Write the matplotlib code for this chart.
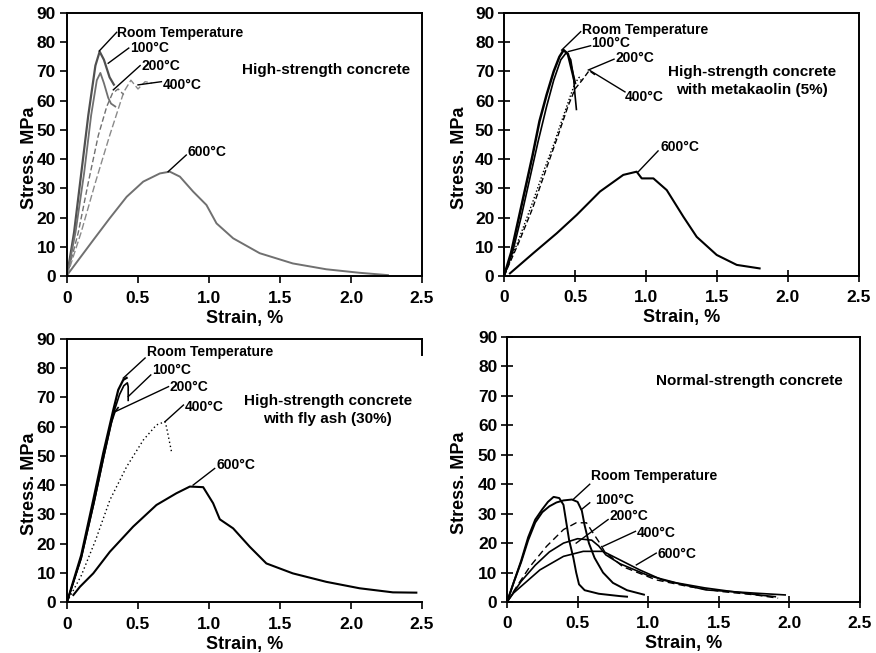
import matplotlib
matplotlib.use("Agg")
import matplotlib.pyplot as plt

# ---------------- data (strain %, stress MPa) ----------------
# Panel 1: High-strength concrete
tl_rt_strain = [0, 0.05, 0.10, 0.15, 0.20, 0.23, 0.26, 0.30, 0.33]
tl_rt_stress = [0, 15, 35, 55, 72, 76.8, 74, 68, 65.5]
tl_100_strain = [0, 0.06, 0.12, 0.17, 0.21, 0.235, 0.26, 0.29, 0.31, 0.34]
tl_100_stress = [0, 15, 35, 55, 67, 69.5, 66, 61, 59, 58]
tl_200_strain = [0, 0.08, 0.15, 0.22, 0.28, 0.32, 0.36, 0.40]
tl_200_stress = [0, 15, 32, 48, 58, 62.5, 64, 62]
tl_400_strain = [0, 0.10, 0.20, 0.30, 0.36, 0.40, 0.45, 0.50, 0.55, 0.60]
tl_400_stress = [0, 15, 32, 48, 57, 63, 67, 64, 66.5, 66]
tl_600_strain = [0.01, 0.185, 0.30, 0.42, 0.537, 0.654, 0.724, 0.795, 0.888, 0.982,
                 1.053, 1.17, 1.357, 1.59, 1.826, 2.06, 2.26]
tl_600_stress = [0.9, 12.3, 19.7, 27.1, 32.3, 35.1, 35.7, 34, 28.9, 24.3,
                 18, 12.9, 7.8, 4.3, 2.3, 1.1, 0.3]

# Panel 2: High-strength concrete with metakaolin (5%)
tr_rt_strain = [0, 0.05, 0.10, 0.15, 0.20, 0.25, 0.30, 0.35, 0.39, 0.42, 0.45, 0.48, 0.50]
tr_rt_stress = [0, 8, 19, 30, 41, 53, 62, 70, 75, 77.3, 76, 70, 66]
tr_100_strain = [0, 0.06, 0.12, 0.18, 0.24, 0.30, 0.35, 0.40, 0.44, 0.47, 0.49, 0.50, 0.51]
tr_100_stress = [0, 8, 20, 33, 46, 58, 67, 74, 76.5, 74, 68, 62, 57]
tr_200_strain = [0, 0.10, 0.20, 0.28, 0.35, 0.42, 0.47, 0.50, 0.53, 0.55]
tr_200_stress = [0, 12, 25, 36, 45, 55, 62, 66, 68, 66.5]
tr_400_strain = [0, 0.10, 0.20, 0.30, 0.38, 0.45, 0.50, 0.55, 0.60, 0.65]
tr_400_stress = [0, 11, 23, 37, 48, 58, 64, 67, 70.3, 68.5]
tr_600_strain = [0.042, 0.206, 0.371, 0.512, 0.676, 0.84, 0.934, 0.97, 1.052, 1.146,
                 1.263, 1.357, 1.498, 1.639, 1.80]
tr_600_stress = [0.9, 7.8, 14.6, 20.9, 28.9, 34.6, 35.7, 33.4, 33.4, 29.4,
                 20.3, 13.4, 7.2, 3.8, 2.6]

# Panel 3: High-strength concrete with fly ash (30%)
bl_rt_strain = [0, 0.10, 0.185, 0.255, 0.326, 0.361, 0.396, 0.42]
bl_rt_stress = [0, 16, 34.9, 50.9, 65.7, 72.6, 76, 76.7]
bl_100_strain = [0, 0.10, 0.19, 0.26, 0.33, 0.37, 0.40, 0.425, 0.431, 0.431]
bl_100_stress = [0, 15, 34, 50, 65, 71, 74, 75, 73.7, 69]
bl_200_strain = [0, 0.10, 0.19, 0.26, 0.31, 0.338, 0.36]
bl_200_stress = [0, 15, 34, 50, 61, 65.1, 66.5]
bl_400_strain = [0, 0.10, 0.20, 0.302, 0.42, 0.537, 0.63, 0.69, 0.70, 0.736]
bl_400_stress = [0, 9, 21, 34.9, 46.3, 55.4, 60.6, 61.7, 60, 51.4]
bl_600_strain = [0.045, 0.091, 0.185, 0.302, 0.466, 0.63, 0.77, 0.865, 0.959, 1.029,
                 1.076, 1.17, 1.287, 1.404, 1.59, 1.826, 2.06, 2.295, 2.46]
bl_600_stress = [2.4, 5.2, 9.8, 17.2, 25.8, 33.2, 37.2, 39.5, 39.3, 33.8,
                 28.3, 25.2, 18.9, 13.2, 9.8, 6.9, 4.7, 3.3, 3.2]

# Panel 4: Normal-strength concrete
br_rt_strain = [0, 0.05, 0.10, 0.15, 0.20, 0.25, 0.29, 0.33, 0.37, 0.40, 0.42, 0.44,
                0.47, 0.49, 0.51, 0.55, 0.65, 0.80, 0.85]
br_rt_stress = [0, 7, 14, 22, 28, 31.5, 34, 35.7, 35.3, 33, 27, 21,
                15, 10, 6, 4, 2.8, 2, 1.8]
br_100_strain = [0, 0.05, 0.10, 0.15, 0.20, 0.25, 0.30, 0.35, 0.40, 0.46, 0.50, 0.53,
                 0.55, 0.58, 0.62, 0.68, 0.75, 0.85, 0.97]
br_100_stress = [0, 7, 13.5, 21, 27, 30.5, 32.5, 33.8, 34.5, 34.8, 34, 31,
                 26, 20, 15, 10, 6.5, 4, 2.5]
br_200_strain = [0, 0.068, 0.162, 0.28, 0.40, 0.49, 0.563, 0.61, 0.657, 0.69, 0.82,
                 1.057, 1.29, 1.53, 1.76, 1.92]
br_200_stress = [0, 5.2, 12, 18.9, 24.6, 26.9, 26.9, 23.4, 20, 17.2, 12,
                 7.5, 5.2, 3.5, 2.4, 1.3]
br_400_strain = [0, 0.10, 0.20, 0.30, 0.40, 0.50, 0.60, 0.65, 0.70, 0.80, 0.90, 1.00,
                 1.20, 1.40, 1.60, 1.80, 1.90]
br_400_stress = [0, 7, 12.5, 17, 20, 21.5, 21, 19, 16, 13, 11, 9,
                 6.5, 4.8, 3.5, 2.3, 1.8]
br_600_strain = [0, 0.045, 0.233, 0.40, 0.54, 0.68, 0.80, 0.94, 1.10, 1.41, 1.76, 1.97]
br_600_stress = [0, 3, 10.9, 15.5, 17.2, 17.2, 14.3, 10.9, 7.5, 4.1, 3, 2.4]

temp_labels = ["Room Temperature", "100°C", "200°C", "400°C", "600°C"]
panel_titles = ["High-strength concrete",
                "High-strength concrete\nwith metakaolin (5%)",
                "High-strength concrete\nwith fly ash (30%)",
                "Normal-strength concrete"]
x_ticks = [0, 0.5, 1.0, 1.5, 2.0, 2.5]
x_tick_labels = ["0", "0.5", "1.0", "1.5", "2.0", "2.5"]
y_ticks = [0, 10, 20, 30, 40, 50, 60, 70, 80, 90]

# ---------------- figure ----------------
FONT = ["Liberation Sans", "DejaVu Sans"]
plt.rcParams['font.family'] = FONT
plt.rcParams['font.weight'] = 'bold'

fig = plt.figure(figsize=(8.76, 6.53), dpi=100)
W, H = 876, 653


def make_ax(l, r, t, b):
    return fig.add_axes([l / W, 1 - b / H, (r - l) / W, (b - t) / H])


ax_tl = make_ax(67, 422, 13, 276)
ax_tr = make_ax(504, 859, 13, 276)
ax_bl = make_ax(67, 422, 339, 602)
ax_br = make_ax(507, 860, 337, 602)

for ax, tdir in [(ax_tl, 'out'), (ax_tr, 'inout'), (ax_bl, 'out'), (ax_br, 'inout')]:
    ax.set_xlim(0, 2.5)
    ax.set_ylim(0, 90)
    ax.set_xticks(x_ticks)
    ax.set_xticklabels(x_tick_labels)
    ax.set_yticks(y_ticks)
    ln = 5 if tdir == 'out' else 8
    ax.tick_params(direction=tdir, length=ln, width=1.2, labelsize=12.5)
    ax.tick_params(axis='x', pad=6)
    ax.tick_params(axis='y', pad=3)
    for sp in ax.spines.values():
        sp.set_linewidth(1.4)
    ax.set_xlabel("Strain, %", fontsize=13, fontweight='bold', labelpad=3)
    ax.set_ylabel("Stress. MPa", fontsize=13, fontweight='bold')
    for lab in ax.get_xticklabels() + ax.get_yticklabels():
        lab.set_fontweight('bold')

ax_tl.yaxis.set_label_coords(-0.082, 0.45)
ax_bl.yaxis.set_label_coords(-0.082, 0.45)
ax_tr.yaxis.set_label_coords(-0.10, 0.45)
ax_br.yaxis.set_label_coords(-0.11, 0.45)
ax_bl.spines['right'].set_bounds(84.5, 90)

GREY = "#707070"
# Panel 1
ax_tl.plot(tl_rt_strain, tl_rt_stress, color="#505050", lw=1.6)
ax_tl.plot(tl_100_strain, tl_100_stress, color=GREY, lw=1.3)
ax_tl.plot(tl_200_strain, tl_200_stress, color=GREY, lw=1.0, ls=(0, (4, 2)))
ax_tl.plot(tl_400_strain, tl_400_stress, color="#8a8a8a", lw=1.0, ls=(0, (5, 2)))
ax_tl.plot(tl_600_strain, tl_600_stress, color=GREY, lw=1.4)
# Panel 2
ax_tr.plot(tr_rt_strain, tr_rt_stress, color="black", lw=1.8)
ax_tr.plot(tr_100_strain, tr_100_stress, color="black", lw=1.2)
ax_tr.plot(tr_200_strain, tr_200_stress, color="black", lw=1.0, ls=(0, (1, 1.5)))
ax_tr.plot(tr_400_strain, tr_400_stress, color="black", lw=1.0, ls=(0, (4, 2)))
ax_tr.plot(tr_600_strain, tr_600_stress, color="black", lw=1.5)
# Panel 3
ax_bl.plot(bl_rt_strain, bl_rt_stress, color="black", lw=1.6)
ax_bl.plot(bl_100_strain, bl_100_stress, color="black", lw=1.2)
ax_bl.plot(bl_200_strain, bl_200_stress, color="black", lw=1.2)
ax_bl.plot(bl_400_strain, bl_400_stress, color="black", lw=1.0, ls=(0, (1, 2)))
ax_bl.plot(bl_600_strain, bl_600_stress, color="black", lw=1.5)
# Panel 4
ax_br.plot(br_rt_strain, br_rt_stress, color="black", lw=1.4)
ax_br.plot(br_100_strain, br_100_stress, color="black", lw=1.4)
ax_br.plot(br_200_strain, br_200_stress, color="black", lw=1.0, ls=(0, (5, 3)))
ax_br.plot(br_400_strain, br_400_stress, color="black", lw=1.2)
ax_br.plot(br_600_strain, br_600_stress, color="black", lw=1.2)

# leader lines: (curve point, label-end point, text position)
leaders = {
    ax_tl: [((0.227, 77.0), (0.35, 83.4), (0.355, 83.3)),
            ((0.29, 72.8), (0.435, 78.0), (0.443, 77.9)),
            ((0.326, 63.7), (0.515, 72.0), (0.525, 71.9)),
            ((0.50, 65.4), (0.665, 66.5), (0.677, 65.4)),
            ((0.712, 35.7), (0.84, 41.4), (0.85, 42.3))],
    ax_tr: [((0.406, 77.3), (0.54, 83.6), (0.547, 84.2)),
            ((0.453, 76.8), (0.61, 78.8), (0.617, 79.6)),
            ((0.594, 70.5), (0.775, 74.2), (0.782, 74.5)),
            ((0.606, 70.3), (0.852, 63.0), (0.852, 61.2)),
            ((0.946, 35.7), (1.085, 42.8), (1.10, 44.3))],
    ax_bl: [((0.396, 76.6), (0.55, 83.5), (0.56, 85.7)),
            ((0.431, 70.3), (0.59, 77.7), (0.596, 79.4)),
            ((0.338, 65.1), (0.715, 73.7), (0.724, 73.7)),
            ((0.69, 61.7), (0.82, 67.4), (0.83, 66.8)),
            ((0.888, 40.0), (1.04, 45.7), (1.053, 46.9))],
    ax_br: [((0.468, 34.8), (0.586, 40.0), (0.598, 42.8)),
            ((0.527, 31.4), (0.586, 33.7), (0.621, 34.8)),
            ((0.49, 20.0), (0.716, 28.0), (0.727, 29.1)),
            ((0.68, 18.9), (0.91, 24.0), (0.916, 23.4)),
            ((0.916, 12.6), (1.057, 16.6), (1.067, 16.4))],
}
for ax, items in leaders.items():
    for (p0, p1, pt), lab in zip(items, temp_labels):
        ax.plot([p0[0], p1[0]], [p0[1], p1[1]], color="black", lw=1.0)
        ax.text(pt[0], pt[1], lab, fontsize=10, fontweight='bold',
                ha='left', va='center')

# panel titles
ax_tl.text(1.825, 70.5, panel_titles[0], fontsize=11, fontweight='bold', ha='center', va='center')
ax_tr.text(1.746, 66.7, panel_titles[1], fontsize=11, fontweight='bold', ha='center', va='center',
           linespacing=1.3)
ax_bl.text(1.835, 65.7, panel_titles[2], fontsize=11, fontweight='bold', ha='center', va='center',
           linespacing=1.3)
ax_br.text(1.72, 75.0, panel_titles[3], fontsize=11, fontweight='bold', ha='center', va='center')

fig.savefig("out.png", dpi=100)
